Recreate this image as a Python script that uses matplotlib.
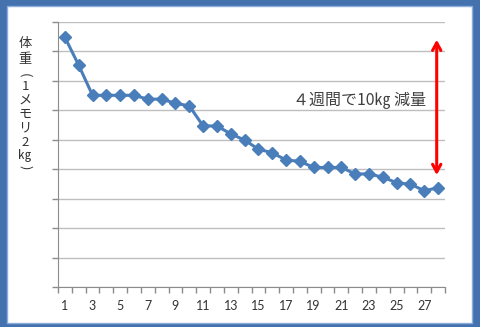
import numpy as np
import matplotlib
matplotlib.use('Agg')
import matplotlib.pyplot as plt
from matplotlib.patches import Rectangle

plt.rcParams['font.family'] = ['Noto Sans CJK JP', 'DejaVu Sans']

# 日ごとの体重 (目盛1つ = 2kg, 軸の一番下を0とした相対値)
days = list(range(1, 29))
weight = [16.96, 15.06, 13.02, 13.02, 13.02, 13.02, 12.76, 12.76, 12.48, 12.30,
          10.94, 10.94, 10.40, 9.98, 9.36, 9.12, 8.62, 8.54, 8.12, 8.12,
          8.12, 7.68, 7.68, 7.46, 7.08, 6.98, 6.54, 6.74]
xtick_labels = [str(d) if d % 2 == 1 else '' for d in days]
ylabel_chars = ['体', '重', '(', '1', 'メ', 'モ', 'リ', '2', '㎏', ')']
note = '４週間で10㎏ 減量'
arrow_x = 27.9
arrow_top = 16.8
arrow_bottom = 7.6

fig = plt.figure(figsize=(4.8, 3.27), dpi=100)
fig.patch.set_facecolor('#4472AE')
fig.patches.append(Rectangle((7/480, 4/327), 465/480, 317/327, transform=fig.transFigure,
                             facecolor='white', edgecolor='#8CAEDC', linewidth=1, zorder=-5))

ax = fig.add_axes([58/480, 40/327, 387/480, 265/327])
ax.set_facecolor('none')
ax.plot(days, weight, color='#4A7EBB', linewidth=2.2, marker='D', markersize=6.5,
        markerfacecolor='#4A7EBB', markeredgecolor='#4A7EBB', zorder=3)

ax.set_xlim(0.5, 28.5)
ax.set_ylim(0, 18)
ax.set_yticks(np.arange(0, 19, 2))
ax.set_yticklabels([])
ax.yaxis.grid(True, color='#BEBEBE', linewidth=1)
ax.set_axisbelow(True)
ax.set_xticks(days)
ax.set_xticklabels(xtick_labels, fontfamily='Lato', fontsize=9, color='#333333')
ax.set_xticks(np.arange(0.5, 29, 1), minor=True)
ax.tick_params(axis='x', which='major', length=0, pad=9)
ax.tick_params(axis='x', which='minor', length=4, color='#8C8C8C', width=1)
ax.tick_params(axis='y', length=4, color='#8C8C8C', width=1)
for s in ['top', 'right']:
    ax.spines[s].set_visible(False)
for s in ['left', 'bottom']:
    ax.spines[s].set_color('#8C8C8C')

ax.annotate('', xy=(arrow_x, arrow_top), xytext=(arrow_x, arrow_bottom),
            arrowprops=dict(arrowstyle='<->,head_length=0.55,head_width=0.3',
                            color='#FF0000', lw=2.2, shrinkA=0, shrinkB=0))
ax.text(22.3, 12.7, note, ha='center', va='center', fontsize=11.5, color='#404040')

# 縦書きの軸ラベル (文字ごとに配置)
label_y_px = [43, 60, 75, 86, 100, 114, 128, 142, 156, 167]
for ch, ypx in zip(ylabel_chars, label_y_px):
    rot = -90 if ch in '()' else 0
    fig.text(25/480, 1 - ypx/327, ch, ha='center', va='center', fontsize=9.5,
             rotation=rot, color='#333333')

fig.savefig('out.png', dpi=100)
